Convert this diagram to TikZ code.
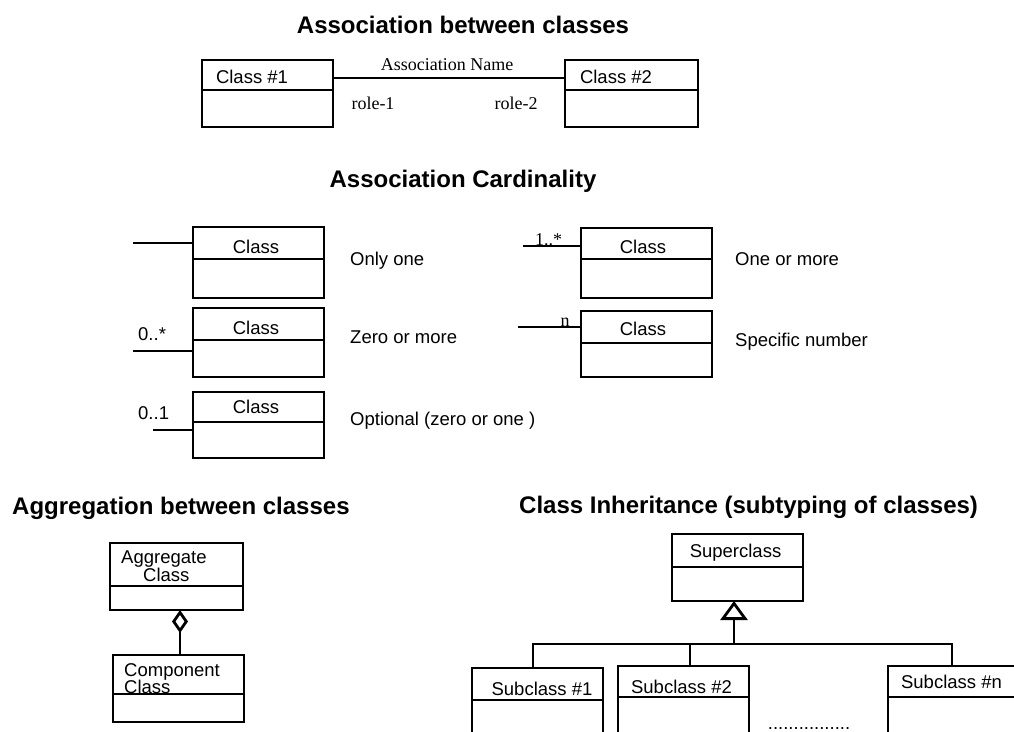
\documentclass[tikz,border=0pt]{standalone}
\usepackage{fontspec}
\setmainfont{Liberation Sans}
\newfontfamily\timesrm{Liberation Serif}
\usetikzlibrary{arrows.meta}

\tikzset{
  umlbox/.style={draw, line width=2.8pt, inner sep=0pt, outer sep=0pt,
                 minimum width=131pt, minimum height=67pt},
  heading/.style={font=\bfseries\fontsize{24}{28}\selectfont, inner sep=0pt, anchor=base},
  txt/.style={font=\fontsize{18.5}{22}\selectfont, inner sep=0pt, anchor=base},
  rmtxt/.style={font=\timesrm\fontsize{18}{21}\selectfont, inner sep=0pt, anchor=base},
  link/.style={line width=2.8pt},
}

\begin{document}
\begin{tikzpicture}[x=1pt, y=-1pt]
\useasboundingbox (0,0) rectangle (1014,731);

% titles
\node[heading] (t1) at (463,33) {Association between classes};
\node[heading] (t2) at (463,187) {Association Cardinality};
\node[heading, anchor=base west] (t3) at (12,514) {Aggregation between classes};
\node[heading, anchor=base west] (t4) at (519,513) {Class Inheritance (subtyping of classes)};

% association
\node[umlbox] (c1) at (267.5,93.5) {};
\node[umlbox, minimum width=133pt] (c2) at (631.5,93.5) {};
\node[txt] (c1t) at (252,83) {Class \#1};
\node[txt] (c2t) at (616,83) {Class \#2};
\draw[link] (c1.east |- 0,78) -- (c2.west |- 0,78);
\node[rmtxt] (an) at (447,70) {Association Name};
\node[rmtxt] (r1) at (373,109) {role-1};
\node[rmtxt] (r2) at (516,109) {role-2};

% cardinality
\node[umlbox, minimum height=71pt] (kA) at (258.5,262.5) {};
\node[umlbox, minimum height=69pt] (kB) at (258.5,342.5) {};
\node[umlbox, minimum height=66pt] (kC) at (258.5,425) {};
\node[umlbox, minimum height=70pt] (kD) at (646.5,263) {};
\node[umlbox, minimum height=66pt] (kE) at (646.5,344) {};
\foreach \n/\y in {kA/253, kB/334, kC/413}
  \node[txt] (\n t) at (256,\y) {Class};
\foreach \n/\y in {kD/253, kE/335}
  \node[txt] (\n t) at (643,\y) {Class};

\coordinate (eA) at (133,243);
\coordinate (eB) at (133,351);
\coordinate (eC) at (153,430);
\coordinate (eD) at (523,246);
\coordinate (eE) at (518,327);
\foreach \e/\n in {eA/kA, eB/kB, eC/kC, eD/kD, eE/kE}
  \draw[link] (\e) -- (\n.west |- \e);

\node[txt, anchor=base west] (mB) at (138,340) {0..*};
\node[txt, anchor=base west] (mC) at (138,419) {0..1};
\node[rmtxt, anchor=base west] (mD) at (535,245) {1..*};
\node[rmtxt] (mE) at (565,326) {n};

\node[txt, anchor=base west] (dA) at (350,265) {Only one};
\node[txt, anchor=base west] (dB) at (350,343) {Zero or more};
\node[txt, anchor=base west] (dC) at (350,425) {Optional (zero or one )};
\node[txt, anchor=base west] (dD) at (735,265) {One or more};
\node[txt, anchor=base west] (dE) at (735,346) {Specific number};

% aggregation
\node[umlbox, minimum width=133pt] (agg) at (176.5,576.5) {};
\node[umlbox] (comp) at (178.5,688.5) {};
\node[txt, anchor=base west] (agt1) at (121,563) {Aggregate};
\node[txt, anchor=base west] (agt2) at (143,581) {Class};
\node[txt, anchor=base west] (cpt1) at (124,676) {Component};
\node[txt, anchor=base west] (cpt2) at (124,693) {Class};
\coordinate (ag) at (180,0);
\draw[link, {Diamond[open, length=23pt, width=16pt]}-] (agg.south -| ag) -- (comp.north -| ag);

% inheritance
\node[umlbox] (sup) at (737.5,567.5) {};
\node[umlbox] (s1) at (537.5,701.5) {};
\node[umlbox] (s2) at (683.5,699.5) {};
\node[umlbox] (sn) at (953.5,699.5) {};
\node[txt] (supt) at (735.5,557) {Superclass};
\node[txt] (s1t) at (542,695) {Subclass \#1};
\node[txt] (s2t) at (681.5,693) {Subclass \#2};
\node[txt] (snt) at (951.5,688) {Subclass \#n};
\node[txt] (dots) at (809,729) {................};

\coordinate (j0) at (734,644);
\coordinate (j1) at (533,644);
\coordinate (j2) at (690,644);
\coordinate (jn) at (952,644);
\draw[link] (s1.north -| j1) -- (j1) -- (jn) -- (sn.north -| jn);
\draw[link] (j2) -- (s2.north -| j2);
\draw[link, -{Triangle[open, length=19pt, width=27pt]}] (j0) -- (sup.south -| j0);

% compartment lines
\foreach \n/\y in {c1/90, c2/90, kA/259, kB/340, kC/422, kD/259, kE/343,
                   agg/586, comp/694, sup/567, s1/700, s2/697, sn/697}
  \draw[link] (\n.west |- 0,\y) -- (\n.east |- 0,\y);

\end{tikzpicture}
\end{document}
